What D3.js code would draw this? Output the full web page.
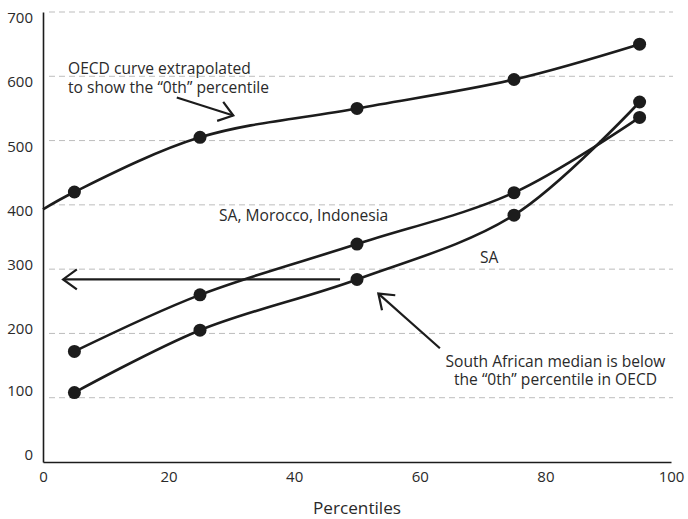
<!DOCTYPE html>
<html>
<head>
<meta charset="utf-8">
<script src="https://cdn.jsdelivr.net/npm/d3@7"></script>
<style>
  html, body { margin: 0; padding: 0; background: #fff; }
  svg { display: block; font-family: "Open Sans", sans-serif; }
</style>
</head>
<body>
<svg id="chart" width="688" height="519"></svg>
<script>
// ---- data ----
const percentiles = [5, 25, 50, 75, 95];
const oecd = [420, 505, 550, 595, 650];
const oecdExtrapolatedZero = 393;          // value of OECD curve extrapolated to the 0th percentile
const saMoroccoIndonesia = [172, 260, 339, 419, 536];
const southAfrica = [108, 205, 284, 384, 560];
const xTicks = [0, 20, 40, 60, 80, 100];
const yTicks = [0, 100, 200, 300, 400, 500, 600, 700];
const xLabel = "Percentiles";
const labelOecd = ["OECD curve extrapolated", "to show the \u201C0th\u201D percentile"];
const labelMid = "SA, Morocco, Indonesia";
const labelSA = "SA";
const labelMedian = ["South African median is below", "the \u201C0th\u201D percentile in OECD"];

// ---- layout ----
const svg = d3.select("#chart");
const x = d3.scaleLinear().domain([0, 100]).range([43, 671]);
const y = d3.scaleLinear().domain([0, 700]).range([462, 12]);
const ink = "#1c1c1c";
const textColor = "#2a2a2a";

// gridlines
svg.append("g").selectAll("line")
  .data(yTicks.filter(d => d > 0))
  .join("line")
  .attr("x1", x(0) + 6).attr("x2", x(100) + 2)
  .attr("y1", d => y(d)).attr("y2", d => y(d))
  .attr("stroke", "#bdbdbd").attr("stroke-width", 1)
  .attr("stroke-dasharray", "6,4");

// axes
const yAxis = d3.axisLeft(y).tickValues(yTicks).tickSize(0).tickPadding(10);
const gy = svg.append("g").attr("transform", `translate(${x(0)},0)`).call(yAxis);
gy.select(".domain").attr("stroke", ink).attr("stroke-width", 1.6);
gy.selectAll("text").attr("font-size", 15).attr("fill", textColor)
  .attr("font-family", "Open Sans, sans-serif").attr("dy", "0.34em")
  .attr("transform", d => `translate(0,${d >= 400 ? 5.5 : (d <= 100 ? -7.5 : -5)})`);

const xAxis = d3.axisBottom(x).tickValues(xTicks).tickSize(0).tickPadding(10);
const gx = svg.append("g").attr("transform", `translate(0,${y(0)})`).call(xAxis);
gx.select(".domain").attr("stroke", ink).attr("stroke-width", 1.6);
gx.selectAll("text").attr("font-size", 15).attr("fill", textColor)
  .attr("font-family", "Open Sans, sans-serif").attr("dy", "0.68em");

svg.append("text").attr("x", 357).attr("y", 514)
  .attr("text-anchor", "middle").attr("font-size", 17.2).attr("fill", textColor)
  .text(xLabel);

// curves
const line = d3.line().x(d => x(d[0])).y(d => y(d[1])).curve(d3.curveCatmullRom.alpha(0.5));
const oecdPts = [[0, oecdExtrapolatedZero]].concat(percentiles.map((p, i) => [p, oecd[i]]));
const midPts = percentiles.map((p, i) => [p, saMoroccoIndonesia[i]]);
const saPts = percentiles.map((p, i) => [p, southAfrica[i]]);

[oecdPts, midPts, saPts].forEach(pts => {
  svg.append("path").attr("d", line(pts)).attr("fill", "none")
    .attr("stroke", ink).attr("stroke-width", 2.6);
});

[[percentiles, oecd], [percentiles, saMoroccoIndonesia], [percentiles, southAfrica]].forEach(([xs, ys]) => {
  svg.append("g").selectAll("circle").data(xs.map((p, i) => [p, ys[i]])).join("circle")
    .attr("cx", d => x(d[0])).attr("cy", d => y(d[1])).attr("r", 6.5).attr("fill", ink);
});

// arrows (open chevron heads)
function arrow(x1, y1, x2, y2, sw) {
  const X1 = x(x1), Y1 = y(y1), X2 = x(x2), Y2 = y(y2);
  const ang = Math.atan2(Y2 - Y1, X2 - X1);
  const len = 17, spread = Math.PI / 5;
  const g = svg.append("g").attr("stroke", ink).attr("stroke-width", sw).attr("fill", "none");
  g.append("line").attr("x1", X1).attr("y1", Y1).attr("x2", X2).attr("y2", Y2);
  g.append("path").attr("d",
    `M${X2 - len * Math.cos(ang - spread)},${Y2 - len * Math.sin(ang - spread)}` +
    `L${X2},${Y2}` +
    `L${X2 - len * Math.cos(ang + spread)},${Y2 - len * Math.sin(ang + spread)}`);
}
arrow(47.3, 284, 3.2, 284, 2.2);
arrow(21.3, 567, 30.3, 539, 2.2);
arrow(63.2, 177, 53.4, 262, 2.2);

// annotation texts (one text element per line)
function label(lines, px, py, anchor) {
  lines.forEach((s, i) => svg.append("text").attr("font-size", 15.6).attr("fill", textColor)
    .attr("text-anchor", anchor).attr("x", px).attr("y", py + i * 18.4).text(s));
}
label(labelOecd, 68, 74.3, "start");
label([labelMid], 219, 220.7, "start");
label([labelSA], 480, 262.7, "start");
label(labelMedian, 555.5, 366.7, "middle");
</script>
</body>
</html>
